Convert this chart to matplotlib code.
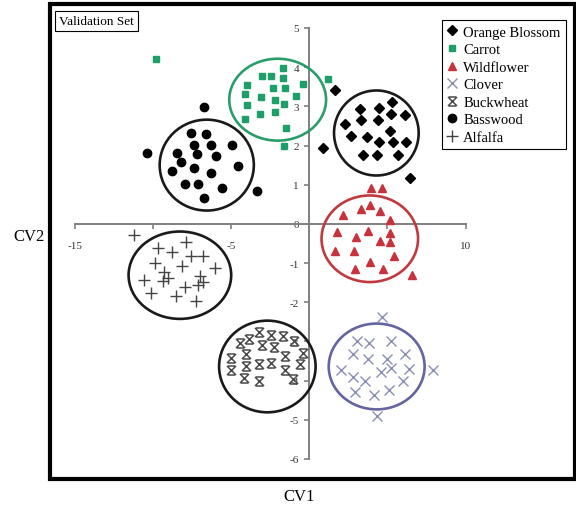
import matplotlib
matplotlib.use("Agg")
import matplotlib.pyplot as plt
from matplotlib.patches import Ellipse, Rectangle
from matplotlib.path import Path

plt.rcParams['font.family'] = ['Liberation Serif', 'DejaVu Serif']

# --- data (CV1, CV2) ---
orange_x = [1.62, 0.88, 6.43, 5.26, 3.23, 4.44, 5.21, 6.15, 2.31, 3.29, 4.40, 5.15,
            2.69, 3.68, 4.44, 5.36, 6.22, 3.44, 4.36, 5.68]
orange_y = [3.43, 1.93, 1.17, 3.10, 2.93, 2.95, 2.81, 2.78, 2.55, 2.66, 2.66, 2.36,
            2.24, 2.23, 2.09, 2.10, 2.10, 1.75, 1.75, 1.75]

carrot_x = [-9.8, -1.69, -3.03, -2.48, -1.69, -0.40, -3.97, -2.33, -1.58, -4.10, -3.08,
            -0.88, -2.18, -1.62, -3.97, -3.18, -2.22, -4.10, -1.52, -1.62, 1.20]
carrot_y = [4.20, 3.97, 3.78, 3.78, 3.72, 3.57, 3.55, 3.46, 3.46, 3.32, 3.25,
            3.27, 3.17, 3.07, 3.04, 2.81, 2.85, 2.68, 2.44, 2.00, 3.70]

wild_x = [3.97, 4.62, 3.87, 3.33, 4.51, 2.16, 5.15, 1.79, 3.76, 3.01, 5.15, 4.51,
          5.15, 1.67, 2.84, 5.43, 3.87, 2.90, 4.72, 6.58]
wild_y = [0.91, 0.91, 0.47, 0.38, 0.34, 0.23, 0.09, -0.21, -0.17, -0.34, -0.23, -0.43,
          -0.47, -0.68, -0.68, -0.81, -0.98, -1.15, -1.15, -1.30]

clover_x = [4.66, 3.08, 3.83, 5.21, 2.80, 3.76, 5.00, 6.15, 2.01, 5.21, 6.37, 4.57,
            7.93, 2.80, 3.55, 6.00, 2.90, 4.15, 5.08, 4.36]
clover_y = [-2.38, -3.00, -3.04, -2.98, -3.32, -3.44, -3.44, -3.32, -3.74, -3.68, -3.70,
            -3.78, -3.72, -3.91, -4.00, -4.02, -4.28, -4.38, -4.25, -4.91]

buck_x = [-3.25, -3.89, -4.47, -2.48, -1.69, -0.98, -3.03, -2.26, -4.04, -1.58, -0.40,
          -5.00, -3.25, -2.44, -4.04, -0.62, -5.00, -1.58, -1.04, -4.19, -3.25]
buck_y = [-2.75, -2.93, -3.04, -2.83, -2.85, -3.00, -3.10, -3.15, -3.32, -3.36, -3.29,
          -3.43, -3.57, -3.55, -3.63, -3.57, -3.72, -3.74, -3.95, -3.94, -4.02]

bass_x = [-6.75, -10.38, -3.35, -7.56, -6.65, -7.41, -6.32, -4.96, -8.48, -7.20, -5.96,
          -8.21, -4.57, -8.80, -7.41, -6.32, -7.95, -7.14, -5.60, -6.75]
bass_y = [2.98, 1.80, 0.83, 2.31, 2.30, 2.02, 2.02, 2.02, 1.80, 1.79, 1.73,
          1.59, 1.49, 1.36, 1.42, 1.29, 1.02, 1.02, 0.92, 0.66]

alf_x = [-11.2, -7.88, -9.66, -8.80, -7.61, -6.81, -9.87, -8.16, -6.07, -9.28, -9.02,
         -7.03, -10.6, -9.40, -6.81, -7.14, -7.95, -10.13, -8.53, -7.24]
alf_y = [-0.28, -0.47, -0.62, -0.71, -0.82, -0.82, -0.99, -1.08, -1.13, -1.22, -1.39,
         -1.33, -1.42, -1.47, -1.49, -1.57, -1.62, -1.76, -1.84, -1.96]

# group circles: centre x, centre y, width, height (data units)
circle_cx = [4.29, -2.03, 3.87, 4.31, -2.69, -6.57, -8.29]
circle_cy = [2.32, 3.17, -0.38, -3.64, -3.64, 1.50, -1.31]
circle_w = [5.42, 6.20, 6.18, 6.14, 6.18, 6.03, 6.57]
circle_h = [2.17, 2.09, 2.21, 2.19, 2.34, 2.32, 2.23]
circle_col = ['#1a1a1a', '#2a9d6a', '#c0393f', '#6464a0', '#1a1a1a', '#1a1a1a', '#1a1a1a']

x_ticks = [-15, -10, -5, 0, 5, 10]
x_labels = ['-15', '', '-5', '', '', '10']
y_ticks = [5, 4, 3, 2, 1, 0, -1, -2, -3, -4, -5, -6]

# buckwheat marker: an X with bars on top and bottom
buck_marker = Path(
    [(-1, -1), (1, 1), (-1, 1), (1, -1), (-0.8, 1), (0.8, 1), (-0.8, -1), (0.8, -1)],
    [Path.MOVETO, Path.LINETO] * 4)

fig = plt.figure(figsize=(5.76, 5.1), dpi=100)
ax = fig.add_axes([0.087, 0.059, 0.911, 0.931])
ax.set_xlim(-16.6, 17.0)
ax.set_ylim(-6.51, 5.61)

# centred axes
for s in ['top', 'right']:
    ax.spines[s].set_visible(False)
ax.spines['left'].set_position(('data', 0))
ax.spines['bottom'].set_position(('data', 0))
ax.spines['left'].set_bounds(-6, 5)
ax.spines['bottom'].set_bounds(-15, 10)
for s in ['left', 'bottom']:
    ax.spines[s].set_color('#808080')
    ax.spines[s].set_linewidth(1.4)

ax.set_xticks(x_ticks)
ax.set_xticklabels(x_labels)
ax.set_yticks(y_ticks)
ax.set_yticklabels([str(v) for v in y_ticks])
ax.tick_params(axis='both', colors='#808080', labelcolor='#333333', labelsize=8,
               length=3.5, width=1.2)
ax.tick_params(axis='x', pad=9)
ax.tick_params(axis='y', pad=4)

# outer frame
ax.add_patch(Rectangle((0, 0), 1, 1, transform=ax.transAxes, fill=False,
                       edgecolor='black', linewidth=3, clip_on=False, zorder=5))

for cx, cy, w, h, c in zip(circle_cx, circle_cy, circle_w, circle_h, circle_col):
    ax.add_patch(Ellipse((cx, cy), w, h, fill=False, edgecolor=c, linewidth=1.9, zorder=3))

ax.plot(orange_x, orange_y, 'D', ls='none', color='black', ms=5, label='Orange Blossom', zorder=4)
ax.plot(carrot_x, carrot_y, 's', ls='none', color='#1e9e68', ms=4.8, label='Carrot', zorder=4)
ax.plot(wild_x, wild_y, '^', ls='none', color='#c8323c', ms=5.5, label='Wildflower', zorder=4)
ax.plot(clover_x, clover_y, 'x', ls='none', color='#8a8fb5', ms=7, mew=1,
        label='Clover', zorder=4)
ax.plot(buck_x, buck_y, marker=buck_marker, ls='none', color='#4a4a4a', ms=6.5, mew=1.1,
        mfc='none', label='Buckwheat', zorder=4)
ax.plot(bass_x, bass_y, 'o', ls='none', color='black', ms=6, label='Basswood', zorder=4)
ax.plot(alf_x, alf_y, '+', ls='none', color='#444444', ms=8.5, mew=1, label='Alfalfa', zorder=4)

leg = ax.legend(loc='upper left', bbox_to_anchor=(0.747, 0.966), fontsize=10.5,
                frameon=True, fancybox=False, edgecolor='black', framealpha=1,
                handlelength=0.7, handletextpad=0.4, labelspacing=0.3,
                borderpad=0.35, borderaxespad=0)
leg.get_frame().set_linewidth(0.8)
leg.set_zorder(6)

ax.text(0.017, 0.978, 'Validation Set', transform=ax.transAxes, fontsize=9.5,
        va='top', ha='left',
        bbox=dict(boxstyle='square,pad=0.3', facecolor='white', edgecolor='black', linewidth=0.8))

fig.text(0.05, 0.535, 'CV2', fontsize=12, ha='center', va='center')
fig.text(0.52, 0.025, 'CV1', fontsize=12, ha='center', va='center')

fig.savefig('out.png', dpi=100)
